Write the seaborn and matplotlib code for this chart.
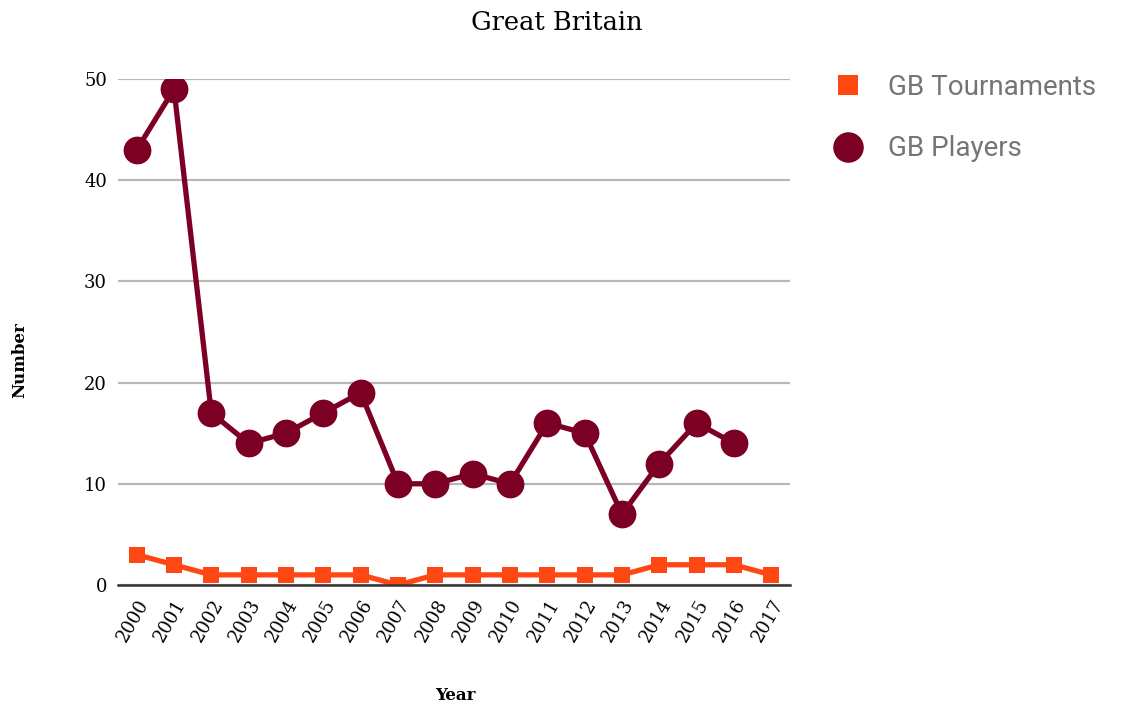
import matplotlib
matplotlib.use("Agg")
import matplotlib.pyplot as plt
import seaborn as sns
import numpy as np
import pandas as pd
from matplotlib.lines import Line2D

years = [str(y) for y in range(2000, 2018)]
gb_tournaments = [3, 2, 1, 1, 1, 1, 1, 0, 1, 1, 1, 1, 1, 1, 2, 2, 2, 1]
gb_players = [43, 49, 17, 14, 15, 17, 19, 10, 10, 11, 10, 16, 15, 7, 12, 16, 14, np.nan]
y_ticks = [0, 10, 20, 30, 40, 50]

c_tour = "#ff4713"
c_play = "#7b0024"

sns.set_style("white")
serif = ["DejaVu Serif"]
plt.rcParams["font.family"] = serif

fig = plt.figure(figsize=(11.22, 7.09), dpi=100)
ax = fig.add_axes([118 / 1122, 1 - 585 / 709, (790 - 118) / 1122, (585 - 79) / 709])

pos = list(range(len(years)))
df = pd.DataFrame({
    "pos": pos * 2,
    "value": gb_tournaments + gb_players,
    "series": ["GB Tournaments"] * len(years) + ["GB Players"] * len(years),
})
df = df.dropna()

sns.lineplot(data=df, x="pos", y="value", hue="series", style="series",
             palette={"GB Tournaments": c_tour, "GB Players": c_play},
             markers={"GB Tournaments": "s", "GB Players": "o"},
             dashes=False, linewidth=3.8, ax=ax, legend=False)
for line in ax.get_lines():
    line.set_markeredgewidth(0)
    if line.get_marker() == "o":
        line.set_markersize(20)
        line.set_zorder(4)
    else:
        line.set_markersize(12)
        line.set_zorder(1.5)

ax.set_xlim(-0.5, len(years) - 0.5)
ax.set_ylim(0, 50)
ax.set_yticks(y_ticks)
ax.set_yticklabels([str(t) for t in y_ticks], fontsize=13, color="black")
ax.set_xticks(pos)
ax.set_xticklabels(years, rotation=60, ha="right", rotation_mode="anchor", fontsize=13, color="black")
ax.tick_params(axis="both", length=0, pad=8)
ax.grid(axis="y", color="#b7b7b7", linewidth=1.6)
ax.grid(axis="x", visible=False)
ax.set_axisbelow(True)
for s in ["top", "right", "left"]:
    ax.spines[s].set_visible(False)
ax.spines["bottom"].set_color("#333333")
ax.spines["bottom"].set_linewidth(1.8)
ax.spines["bottom"].set_zorder(2)

ax.set_xlabel("")
ax.set_ylabel("")
fig.text(455 / 1122, 1 - 695 / 709, "Year", ha="center", va="center", fontsize=12,
         fontweight="bold", color="black")
fig.text(20 / 1122, 1 - 360 / 709, "Number", rotation=90, ha="center", va="center", fontsize=12,
         fontweight="bold", color="black")
fig.text(557 / 1122, 1 - 22 / 709, "Great Britain", ha="center", va="center", fontsize=18.5,
         color="black")

handles = [
    Line2D([], [], linestyle="none", marker="s", color=c_tour, markersize=15, markeredgewidth=0),
    Line2D([], [], linestyle="none", marker="o", color=c_play, markersize=22, markeredgewidth=0),
]
leg = fig.legend(handles, ["GB Tournaments", "GB Players"], loc="center left",
                 bbox_to_anchor=(820 / 1122, 1 - 118 / 709), frameon=False,
                 prop={"family": ["Roboto", "DejaVu Sans"], "size": 20},
                 labelspacing=1.25, handletextpad=0.45, borderaxespad=0, borderpad=0)
for t in leg.get_texts():
    t.set_color("#757575")

fig.savefig("out.png", dpi=100)
